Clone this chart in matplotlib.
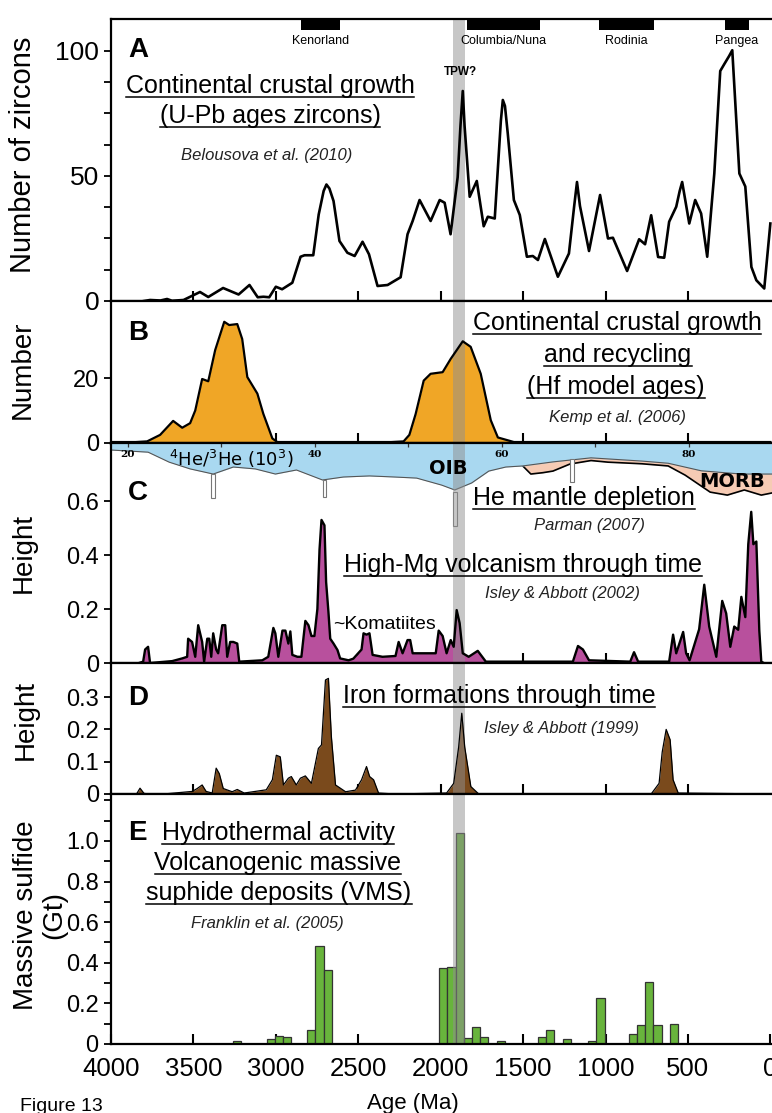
import numpy as np
import matplotlib.pyplot as plt
from matplotlib.lines import Line2D

plt.rcParams['font.family'] = ['Liberation Sans', 'DejaVu Sans']

# ---- data ----
# A: U-Pb zircon ages (Belousova et al. 2010)
a_age = [3800, 3763, 3700, 3660, 3630, 3560, 3510, 3460, 3410, 3320, 3226, 3160, 3110, 3075,
         3040, 3000, 2962, 2900, 2850, 2826, 2773, 2740, 2710, 2693, 2675, 2650, 2614, 2566,
         2522, 2474, 2435, 2383, 2322, 2243, 2201, 2170, 2128, 2061, 2006, 1976, 1940, 1897,
         1880, 1866, 1855, 1824, 1781, 1739, 1714, 1672, 1635, 1623, 1610, 1593, 1556, 1520,
         1477, 1441, 1410, 1368, 1289, 1222, 1190, 1173, 1155, 1100, 1033, 985, 955, 869, 796,
         760, 723, 681, 644, 614, 571, 550, 535, 492, 456, 420, 383, 340, 304, 280, 250, 231,
         188, 152, 115, 85, 37, 0]
a_val = [0, 0.4, 0.2, 0.8, 0.1, 0.4, 2, 3.6, 1.6, 5.2, 2.6, 6.4, 1.5, 1.7,
         1.5, 5.7, 4.7, 7.3, 17.7, 18.3, 18.3, 34.6, 44, 46.6, 45, 40, 24, 19.3,
         18, 23.7, 18.7, 6, 6.4, 9.5, 26.7, 32, 40.4, 32, 40.4, 39.3, 26.7, 49.5,
         70, 84, 70, 41.7, 48, 29.9, 33.7, 33, 72, 80.4, 78, 67, 40.4, 34.4,
         17.7, 18, 16.4, 24.8, 9.7, 19, 38, 47.6, 38, 20, 42.4, 25, 25.3, 12, 24.7,
         22.7, 34.3, 17.6, 17.3, 31.7, 37.7, 44, 47.6, 31, 40.4, 35, 17.7, 51, 92, 94.7, 98, 100.3,
         51, 45.8, 13.6, 8.3, 5, 31]

sc_names = ['Kenorland', 'Columbia/Nuna', 'Rodinia', 'Pangea']
sc_old = [2850, 1840, 1040, 275]
sc_young = [2610, 1400, 705, 130]

# B: Hf model ages (Kemp et al. 2006)
b_age = [4000, 3850, 3781, 3702, 3623, 3568, 3520, 3489, 3447, 3410, 3368, 3313, 3283, 3234,
         3204, 3173, 3112, 3076, 3021, 2991, 2300, 2225, 2190, 2152, 2103, 2061, 1988, 1939,
         1866, 1818, 1757, 1696, 1653, 1556, 0]
b_val = [0.3, 0.3, 0.5, 2.5, 6.8, 4.7, 6.1, 10, 19.7, 19, 28.6, 37.3, 36.3, 36.6,
         32, 20.3, 15.2, 9, 1.4, 0.3, 0.3, 0.5, 2.5, 8.9, 19.2, 21.3, 21.8, 25.9,
         31.3, 29.6, 21.3, 7, 1.7, 0.3, 0.3]

# C: He mantle depletion strip (Parman 2007), drawn in panel C height units
he_age = [4000, 3775, 3647, 3520, 3380, 3258, 3125, 3003, 2875, 2717, 2590, 2432, 2280, 2146,
          1994, 1915, 1812, 1708, 1605, 1502, 1319, 1088, 778, 620, 419, 176, -10]
he_low = [0.789, 0.781, 0.744, 0.719, 0.700, 0.726, 0.719, 0.700, 0.715, 0.678, 0.689, 0.693,
          0.689, 0.685, 0.659, 0.641, 0.667, 0.711, 0.726, 0.730, 0.745, 0.760, 0.748, 0.740,
          0.712, 0.700, 0.700]
morb_age = [1502, 1453, 1380, 1319, 1216, 1088, 985, 778, 620, 517, 365, 261, 158, 55, -10]
morb_low = [0.730, 0.700, 0.705, 0.711, 0.737, 0.750, 0.744, 0.738, 0.730, 0.696, 0.633,
            0.622, 0.641, 0.622, 0.630]
hebar_age = [3380, 2705, 1915, 1204]
hebar_top = [0.700, 0.678, 0.635, 0.756]
hebar_bot = [0.611, 0.615, 0.507, 0.670]
he_ticks = [20, 30, 40, 50, 60, 70, 80]
he_labels = [20, 40, 60, 80]

# C: High-Mg volcanism (Isley & Abbott 2002)
c_age = [3830, 3805, 3793, 3775, 3763, 3629, 3568, 3538, 3532, 3508, 3489, 3471, 3447, 3435,
         3416, 3404, 3392, 3380, 3362, 3350, 3325, 3307, 3295, 3277, 3258, 3234, 3222, 3082,
         3046, 3021, 3015, 3003, 2985, 2960, 2942, 2924, 2912, 2900, 2869, 2845, 2821, 2802,
         2784, 2766, 2748, 2735, 2723, 2705, 2695, 2681, 2670, 2650, 2626, 2610, 2559, 2530,
         2480, 2468, 2450, 2432, 2413, 2353, 2274, 2255, 2231, 2201, 2185, 2170, 2030, 2012,
         1988, 1964, 1939, 1921, 1903, 1885, 1866, 1830, 1775, 1726, 1198, 1167, 1137, 1100,
         850, 827, 802, 614, 590, 571, 529, 511, 490, 432, 401, 371, 328, 292, 268, 243, 219,
         195, 176, 152, 134, 116, 103, 85, 67, 55, 40]
c_val = [0, 0.005, 0.05, 0.06, 0, 0.007, 0.017, 0.023, 0.09, 0.078, 0.023, 0.14, 0.078, 0.005,
         0.09, 0.09, 0.023, 0.11, 0.05, 0.036, 0.14, 0.14, 0.023, 0.078, 0.078, 0.072, 0.005, 0.01,
         0.023, 0.11, 0.13, 0.11, 0.023, 0.12, 0.12, 0.072, 0.117, 0.03, 0.023, 0.023, 0.156, 0.14,
         0.1, 0.1, 0.2, 0.42, 0.53, 0.51, 0.30, 0.19, 0.09, 0.072, 0.048, 0.017, 0.01, 0.016,
         0.05, 0.11, 0.105, 0.11, 0.03, 0.023, 0.026, 0.078, 0.036, 0.085, 0.085, 0.036, 0.036, 0.12,
         0.10, 0.036, 0.085, 0.06, 0.196, 0.148, 0.036, 0.023, 0.045, 0.005, 0.005, 0.063, 0.05, 0.01,
         0.005, 0.04, 0.005, 0.005, 0.105, 0.036, 0.115, 0.036, 0.01, 0.125, 0.29, 0.135, 0.023,
         0.23, 0.184, 0.06, 0.135, 0.123, 0.245, 0.17, 0.44, 0.56, 0.44, 0.45, 0.12, 0.005, 0]

# D: Iron formations (Isley & Abbott 1999)
d_age = [3900, 3845, 3824, 3800, 3775, 3658, 3507, 3477, 3447, 3423, 3386, 3362, 3343, 3319,
         3265, 3234, 3192, 3058, 3021, 2997, 2973, 2954, 2924, 2906, 2876, 2851, 2821, 2784,
         2742, 2723, 2699, 2681, 2663, 2638, 2577, 2517, 2480, 2450, 2431, 2407, 2377, 2280,
         1964, 1921, 1891, 1872, 1854, 1817, 1769, 723, 675, 656, 632, 608, 590, 559, 0]
d_val = [0, 0, 0.018, 0.002, 0, 0.001, 0.008, 0.017, 0.028, 0.008, 0.003, 0.08, 0.063, 0.017,
         0.007, 0.014, 0.003, 0.013, 0.044, 0.12, 0.115, 0.028, 0.049, 0.054, 0.028, 0.049, 0.056,
         0.033, 0.141, 0.152, 0.353, 0.358, 0.177, 0.028, 0.007, 0.012, 0.044, 0.085, 0.054, 0.044,
         0.003, 0, 0.003, 0.033, 0.145, 0.25, 0.145, 0.023, 0, 0, 0.033, 0.13, 0.2, 0.168, 0.044,
         0.003, 0]

# E: VMS deposits (Franklin et al. 2005), 50 Ma bins
e_age = [3235, 3030, 2980, 2930, 2785, 2735, 2685, 1985, 1935, 1885, 1835, 1785, 1735, 1635,
         1385, 1335, 1235, 1080, 1030, 835, 785, 735, 685, 585]
e_val = [0.016, 0.023, 0.041, 0.033, 0.069, 0.483, 0.364, 0.376, 0.38, 1.041, 0.028, 0.085,
         0.036, 0.016, 0.036, 0.069, 0.023, 0.016, 0.228, 0.05, 0.092, 0.304, 0.092, 0.097]

band = (1927, 1854)

# ---- figure ----
W, H = 772, 1113
fig = plt.figure(figsize=(W / 100, H / 100), dpi=100)


def panel(top, bottom):
    return fig.add_axes([111 / W, 1 - bottom / H, (W - 111) / W, (bottom - top) / H])


def style(ax, ylim, yticks, ylabels, ysize=17):
    ax.set_xlim(4000, -10)
    ax.set_ylim(*ylim)
    for s in ['left', 'bottom', 'top']:
        ax.spines[s].set_linewidth(1.6)
    ax.spines['right'].set_visible(False)
    ax.set_xticks(range(500, 4000, 500))
    ax.tick_params(axis='x', direction='in', length=7, width=1.5, labelbottom=False)
    ax.tick_params(axis='y', which='both', direction='out', length=5, width=1.3, labelsize=ysize)
    ax.set_yticks(yticks)
    ax.set_yticklabels(ylabels)
    ax.axvspan(band[0], band[1], color='#909090', alpha=0.5, lw=0, zorder=2.5)


def ftext(x, y, s, **kw):
    return fig.text(x / W, 1 - y / H, s, **kw)


underlined = []


def title(x, y, s, size=18):
    t = ftext(x, y, s, fontsize=size, ha='center', va='baseline')
    underlined.append((t, y))
    return t


def cite(x, y, s):
    return ftext(x, y, s, fontsize=12, style='italic', ha='center', va='baseline', color='#222222')


# A
axA = panel(19, 301)
style(axA, (0, 112.8), [0, 50, 100], ['0', '50', '100'], ysize=19)
axA.set_yticks(np.arange(0, 112, 12.5), minor=True)
axA.plot(a_age, a_val, color='black', lw=1.9, zorder=3, solid_joinstyle='round')
axA.bar([(o + y) / 2 for o, y in zip(sc_old, sc_young)], 4.4, bottom=108.4,
        width=[o - y for o, y in zip(sc_old, sc_young)], color='black', zorder=3)
for n, o, y in zip(sc_names, sc_old, sc_young):
    axA.text((o + y) / 2, 104, n, fontsize=9, ha='center', va='center')
axA.text(1878, 91.6, 'TPW?', fontsize=8.5, fontweight='bold', ha='center', va='center')

# B
axB = panel(301, 443)
style(axB, (0, 43.7), [0, 20], ['0', '20'])
axB.spines['bottom'].set_linewidth(2.4)
axB.fill_between(b_age, b_val, 0, color='#F0A626', lw=0, zorder=2)
axB.plot(b_age, b_val, color='black', lw=1.6, zorder=3)

# C
axC = panel(443, 663)
style(axC, (0, 0.815), [0, 0.2, 0.4, 0.6], ['0', '0.2', '0.4', '0.6'])
axC.fill_between(morb_age, morb_low, 0.815, color='#F6CBB4', lw=0, zorder=1.4)
axC.plot(morb_age, morb_low, color='black', lw=1.2, zorder=1.45)
axC.fill_between(he_age, he_low, 0.815, color='#A9D8F0', lw=0, zorder=1.5)
axC.plot(he_age, he_low, color='#555555', lw=0.8, zorder=1.55)
axC.bar(hebar_age, [t - b for t, b in zip(hebar_top, hebar_bot)], bottom=hebar_bot, width=22,
        color='white', edgecolor='#777777', lw=0.8, zorder=1.6)


def he2age(h):
    return 3897 - (np.asarray(h, dtype=float) - 20) * 56.7


axC.vlines(he2age(he_ticks), 0.800, 0.815, color='#333333', lw=0.9, zorder=1.7)
for h in he_labels:
    axC.text(he2age(h), 0.773, str(h), fontsize=7.5, fontweight='bold', family='DejaVu Serif',
             ha='center', va='center', zorder=4)
axC.text(3270, 0.757, r'$^4$He/$^3$He (10$^3$)', fontsize=13, family='DejaVu Sans',
         ha='center', va='center', zorder=4)
axC.text(1957, 0.722, 'OIB', fontsize=14, fontweight='bold', family='DejaVu Sans',
         ha='center', va='center', zorder=4)
axC.text(432, 0.674, 'MORB', fontsize=14, fontweight='bold', family='DejaVu Sans',
         ha='left', va='center', zorder=4, clip_on=True)
axC.fill_between(c_age, c_val, 0, color='#B8509D', lw=0, zorder=2)
axC.plot(c_age, c_val, color='black', lw=1.7, zorder=3)

# D
axD = panel(663, 794)
style(axD, (0, 0.4056), [0, 0.1, 0.2, 0.3], ['0', '0.1', '0.2', '0.3'])
axD.fill_between(d_age, d_val, 0, color='#7A4A1C', lw=0, zorder=2)
axD.plot(d_age, d_val, color='black', lw=0.9, zorder=3)

# E
axE = panel(794, 1044)
style(axE, (0, 1.2315), [0, 0.2, 0.4, 0.6, 0.8, 1.0], ['0', '0.2', '0.4', '0.6', '0.8', '1.0'])
axE.set_yticks(np.arange(0, 1.21, 0.1), minor=True)
axE.bar(e_age, e_val, width=50, color='#68B43C', edgecolor='#333333', lw=0.9, zorder=2)
axE.set_xticks(range(0, 4001, 500))
axE.set_xticklabels([str(v) for v in range(0, 4001, 500)])
axE.tick_params(axis='x', labelbottom=True, labelsize=18.5, pad=9)
axE.tick_params(axis='y', pad=4)

# panel letters
for letter, yb in zip('ABCDE', [57, 340, 500, 705, 840]):
    ftext(128, yb, letter, fontsize=20, fontweight='bold', va='baseline')

# y labels
ftext(23, 155, 'Number of zircons', fontsize=21, rotation=90, ha='center', va='center')
ftext(23, 370, 'Number', fontsize=20, rotation=90, ha='center', va='center')
ftext(24, 553, 'Height', fontsize=20, rotation=90, ha='center', va='center')
ftext(26, 720, 'Height', fontsize=20, rotation=90, ha='center', va='center')
ftext(40, 915, 'Massive sulfide\n(Gt)', fontsize=20, rotation=90, ha='center', va='center',
      multialignment='center', linespacing=1.1)

# annotations
title(270, 93, 'Continental crustal growth')
title(270, 123, '(U-Pb ages zircons)')
cite(267, 160, 'Belousova et al. (2010)')
title(617, 330, 'Continental crustal growth')
title(618, 362, 'and recycling')
title(616, 394, '(Hf model ages)')
cite(617, 422, 'Kemp et al. (2006)')
title(584, 505, 'He mantle depletion')
cite(589, 530, 'Parman (2007)')
title(523, 572, 'High-Mg volcanism through time')
cite(562, 598, 'Isley & Abbott (2002)')
ftext(384, 629, '~Komatiites', fontsize=14, ha='center', va='baseline')
title(499, 703, 'Iron formations through time')
cite(561, 733, 'Isley & Abbott (1999)')
title(278, 840, 'Hydrothermal activity')
title(278, 870, 'Volcanogenic massive')
title(279, 900, 'suphide deposits (VMS)')
cite(267, 928, 'Franklin et al. (2005)')

ftext(413, 1093, 'Age (Ma)', fontsize=16, ha='center', va='top')
ftext(20, 1098, 'Figure 13', fontsize=14, ha='left', va='top')

fig.canvas.draw()
r = fig.canvas.get_renderer()
for t, yb in underlined:
    bb = t.get_window_extent(r)
    fig.add_artist(Line2D([bb.x0 / W, bb.x1 / W], [1 - (yb + 4) / H] * 2, color='black', lw=1.1))

fig.savefig('out.png', dpi=100)
